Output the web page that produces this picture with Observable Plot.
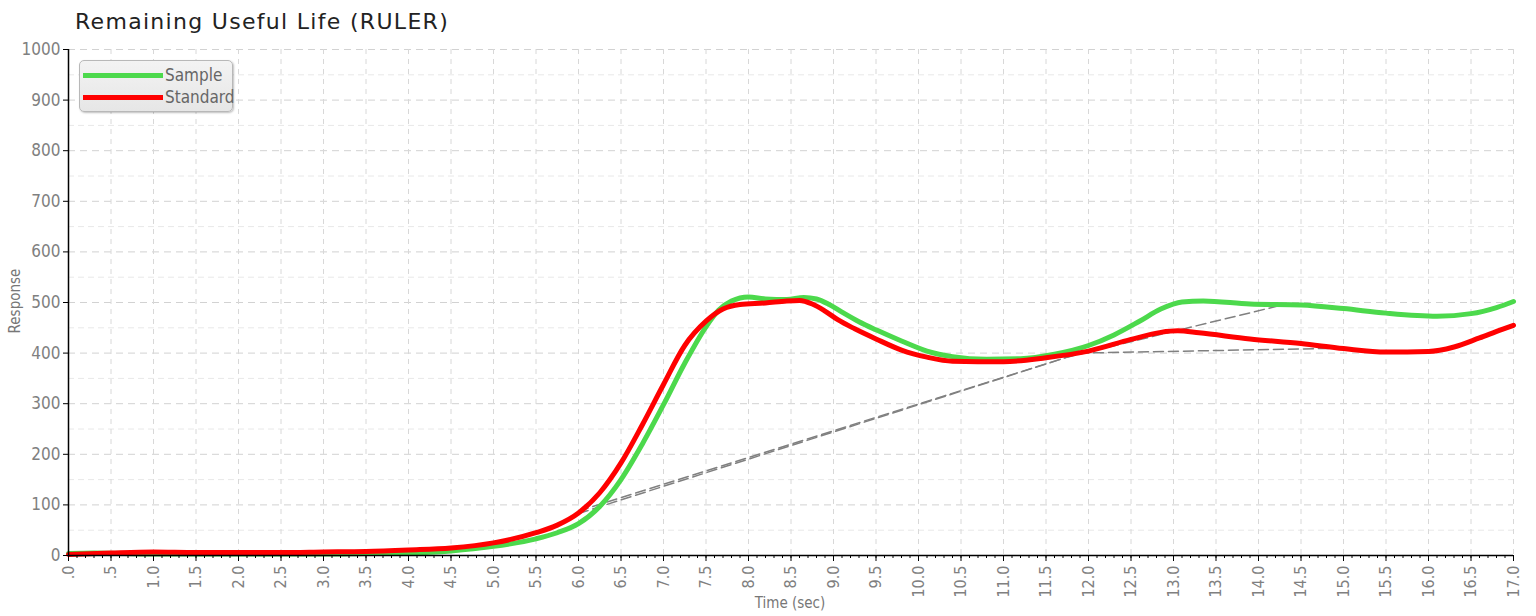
<!DOCTYPE html>
<html>
<head>
<meta charset="utf-8">
<script src="https://cdn.jsdelivr.net/npm/d3@7"></script>
<script src="https://cdn.jsdelivr.net/npm/@observablehq/plot@0.6"></script>
<style>
  html, body { margin: 0; padding: 0; background: #fff; }
  #wrap { position: relative; width: 1536px; height: 616px; overflow: hidden; }
  #title { position: absolute; left: 75px; top: 9px; font-family: "DejaVu Sans", sans-serif; font-size: 22px; letter-spacing: 1.3px; line-height: 26px; color: #222; white-space: nowrap; }
  #chart { position: absolute; left: 0; top: 0; }
  .axlab { position: absolute; font-family: "Liberation Sans Narrow", "DejaVu Sans Condensed", sans-serif; font-size: 15px; color: #777; white-space: nowrap; }
  #ylab { left: 15px; top: 301px; transform: translate(-50%, -50%) rotate(-90deg); }
  #xlab { left: 790px; top: 603px; transform: translate(-50%, -50%); }
  #legend { position: absolute; left: 79px; top: 60px; width: 154px; height: 52px; box-sizing: border-box;
    border: 1px solid #b8b8b8; border-radius: 5px; background: linear-gradient(#f3f3f3, #e6e6e6);
    box-shadow: 1px 1px 2px rgba(0,0,0,0.25); font-family: "Liberation Sans Narrow", "DejaVu Sans Condensed", sans-serif; font-size: 17px; color: #666; }
  .li { position: absolute; left: 3px; height: 20px; display: flex; align-items: center; }
  .sw { width: 80px; height: 5px; margin-right: 2px; }
</style>
</head>
<body>
<div id="wrap">
  <div id="chart"></div>
  <div id="title">Remaining Useful Life (RULER)</div>
  <div id="ylab" class="axlab">Response</div>
  <div id="xlab" class="axlab">Time (sec)</div>
  <div id="legend"></div>
</div>
<script>
// ---- data ----
const sampleTime = [0, 0.3, 1.0, 2.0, 3.0, 3.5, 4.0, 4.5, 5.0, 5.5, 5.75, 6.0, 6.25, 6.5, 6.75, 7.0, 7.25, 7.5, 7.65, 7.8, 8.0, 8.2, 8.45, 8.65, 8.8, 8.95, 9.1, 9.3, 9.5, 9.8, 10.1, 10.4, 10.8, 11.2, 11.6, 12.0, 12.3, 12.6, 12.85, 13.1, 13.35, 13.9, 14.5, 15.0, 15.5, 16.1, 16.5, 16.8, 17.0];
const sampleValue = [4, 5, 3, 3, 3, 4, 5, 9, 18, 33, 45, 63, 97, 150, 220, 298, 380, 452, 485, 503, 511, 507, 506, 510, 507, 496, 481, 462, 446, 424, 404, 393, 388, 389, 398, 415, 436, 463, 487, 501, 503, 497, 495, 488, 479, 473, 478, 490, 502];

const standardTime = [0, 0.5, 1.0, 1.5, 2.0, 2.5, 3.0, 3.5, 4.0, 4.5, 5.0, 5.5, 5.75, 6.0, 6.25, 6.5, 6.75, 7.0, 7.25, 7.5, 7.7, 7.9, 8.2, 8.45, 8.6, 8.75, 8.9, 9.05, 9.25, 9.5, 9.8, 10.1, 10.4, 11.0, 11.5, 12.0, 12.5, 12.85, 13.05, 13.3, 13.9, 14.5, 15.0, 15.5, 16.0, 16.3, 16.6, 16.85, 17.0];
const standardValue = [2, 5, 7, 6, 6, 6, 7, 8, 11, 15, 25, 45, 60, 84, 124, 183, 258, 338, 415, 463, 487, 496, 499, 503, 504, 497, 483, 466, 448, 428, 406, 392, 384, 383, 391, 404, 427, 441, 444, 440, 428, 419, 409, 402, 403, 412, 430, 446, 455];

const sampleTangentTime = [6.0, 11.75, 14.35];
const sampleTangentValue = [88, 392, 498];
const standardTangentTime = [6.0, 11.9, 15.05];
const standardTangentValue = [83, 400, 410];

const seriesNames = ["Sample", "Standard"];
const seriesColors = ["#4cd94c", "#ff0000"];

const xTicks = d3.range(0, 17.0001, 0.5);
const xMinorTicks = d3.range(0, 17.0001, 0.1);
const yTicks = d3.range(0, 1001, 100);

// ---- build tables ----
const zip = (t, v) => t.map((d, i) => ({t: d, v: v[i]}));
const sample = zip(sampleTime, sampleValue);
const standard = zip(standardTime, standardValue);
const sampleTan = zip(sampleTangentTime, sampleTangentValue);
const standardTan = zip(standardTangentTime, standardTangentValue);

const font = '"Liberation Sans Narrow", "DejaVu Sans Condensed", sans-serif';
const fmtX = d => { const s = d.toFixed(1); return s.startsWith("0") ? s.slice(1) : s; };

const chart = Plot.plot({
  width: 1536,
  height: 616,
  marginLeft: 68,
  marginRight: 23,
  marginTop: 49,
  marginBottom: 61,
  style: {fontFamily: font, background: "transparent", overflow: "visible"},
  x: {domain: [0, 17]},
  y: {domain: [0, 1000]},
  marks: [
    Plot.gridY(d3.range(50, 1000, 100), {stroke: "#e8e8e8", strokeOpacity: 1, strokeDasharray: "6,4"}),
    Plot.gridY(yTicks, {stroke: "#d2d2d2", strokeOpacity: 1, strokeDasharray: "7,5"}),
    Plot.gridX(xTicks, {stroke: "#d8d8d8", strokeOpacity: 1, strokeDasharray: "5,5"}),
    Plot.line(sampleTan, {x: "t", y: "v", stroke: "#808080", strokeWidth: 1.5, strokeDasharray: "10,5"}),
    Plot.line(standardTan, {x: "t", y: "v", stroke: "#808080", strokeWidth: 1.5, strokeDasharray: "10,5"}),
    Plot.line(sample, {x: "t", y: "v", stroke: seriesColors[0], strokeWidth: 5, curve: "monotone-x"}),
    Plot.line(standard, {x: "t", y: "v", stroke: seriesColors[1], strokeWidth: 5, curve: "monotone-x"}),
    Plot.axisX({ticks: xMinorTicks, tickFormat: () => "", tickSize: 3, color: "#000", label: null}),
    Plot.axisX({ticks: xTicks, tickFormat: () => "", tickSize: 6, color: "#000", label: null}),
    Plot.axisX({ticks: xTicks, tickFormat: fmtX, tickSize: 0, tickPadding: 10,
      tickRotate: -90, fill: "#808080", fontSize: 16, label: null}),
    Plot.axisY({ticks: yTicks, tickFormat: () => "", tickSize: 5, color: "#000", label: null}),
    Plot.axisY({ticks: yTicks, tickFormat: d => String(d), tickSize: 0, tickPadding: 8, fill: "#808080", fontSize: 17, label: null}),
    Plot.ruleX([0], {stroke: "#000", strokeWidth: 1.5}),
    Plot.ruleY([0], {stroke: "#000", strokeWidth: 1.5})
  ]
});
document.getElementById("chart").appendChild(chart);

// legend
const legend = document.getElementById("legend");
seriesNames.forEach((name, i) => {
  const row = document.createElement("div");
  row.className = "li";
  row.style.top = (4 + i * 22) + "px";
  const sw = document.createElement("div");
  sw.className = "sw";
  sw.style.background = seriesColors[i];
  const tx = document.createElement("span");
  tx.textContent = name;
  row.appendChild(sw);
  row.appendChild(tx);
  legend.appendChild(row);
});
</script>
</body>
</html>
